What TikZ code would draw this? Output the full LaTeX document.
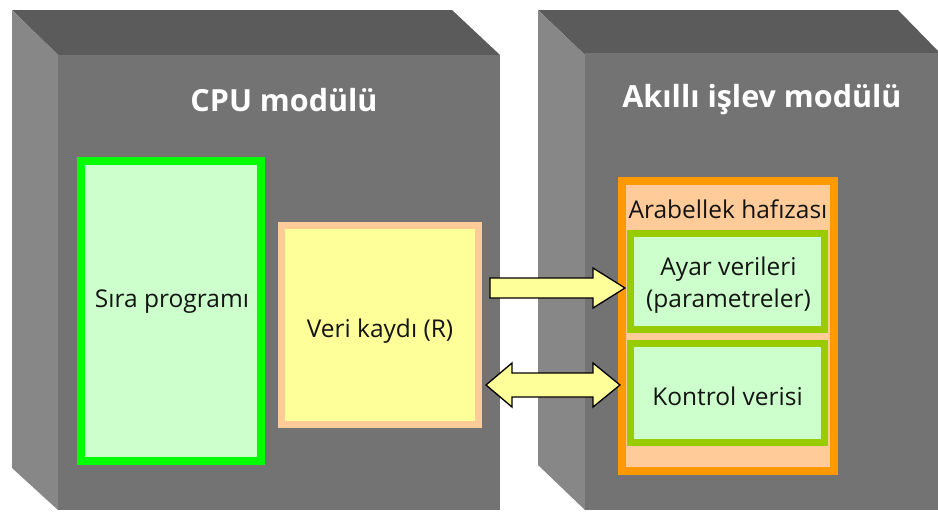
\documentclass[tikz,border=0pt]{standalone}
\usepackage{fontspec}
\setmainfont{Open Sans}
\usetikzlibrary{calc}
\definecolor{frontgray}{HTML}{737373}
\definecolor{topgray}{HTML}{5B5B5B}
\definecolor{sidegray}{HTML}{878787}
\definecolor{lightgreen}{HTML}{CCFFCC}
\definecolor{brightgreen}{HTML}{00FF00}
\definecolor{olivegreen}{HTML}{99CC00}
\definecolor{peach}{HTML}{FFCC99}
\definecolor{paleyellow}{HTML}{FFFF99}
\definecolor{orangeb}{HTML}{FF9900}
\definecolor{txt}{HTML}{141414}
\tikzset{
  box/.style={inner sep=0pt},
  lbl/.style={inner sep=0pt, align=center, text=txt, font=\fontsize{24.5}{32}\selectfont},
  title/.style={text=white, font=\bfseries\fontsize{30.5}{36}\selectfont, inner sep=0pt},
  fatarrow/.style={fill=paleyellow, draw=black, line width=1.3pt, line join=miter},
}
\begin{document}
\begin{tikzpicture}[x=1pt,y=-1pt]
\useasboundingbox (0,0) rectangle (938,512);
% left module
\fill[topgray] (12,10) -- (452,10) -- (500,55) -- (58,55) -- cycle;
\fill[sidegray] (12,10) -- (58,55) -- (58,510) -- (12,468) -- cycle;
\fill[frontgray] (58,55) rectangle (500,510);
% right module
\fill[topgray] (538,10) -- (898,10) -- (940,53) -- (585,55) -- cycle;
\fill[sidegray] (538,10) -- (585,55) -- (585,510) -- (538,465) -- cycle;
\fill[frontgray] (585,53) rectangle (940,510);

\node[title] (cpu) at (284,100) {CPU modülü};
\node[title] (akilli) at (762,100) {Akıllı işlev modülü};

\node[box, fill=lightgreen, draw=brightgreen, line width=8pt,
      minimum width=180pt, minimum height=300pt] (sira) at (171,311) {};
\node[lbl] (siratxt) at (172,302) {Sıra programı};

\node[box, fill=paleyellow, draw=peach, line width=7pt,
      minimum width=197pt, minimum height=199pt] (veri) at (380,325) {};
\node[lbl] (veritxt) at ($(veri.center)+(0,6)$) {Veri kaydı (R)};

\node[box, fill=peach, draw=orangeb, line width=8pt,
      minimum width=212pt, minimum height=290pt] (arab) at (728,326) {};
\node[lbl] (arabtxt) at (728,209) {Arabellek hafızası};

\node[box, fill=lightgreen, draw=olivegreen, line width=7pt,
      minimum width=194pt, minimum height=96pt] (ayar) at (727.5,281.5) {};
\node[lbl] (ayartxt) at ($(ayar.center)+(1,4)$) {Ayar verileri\\(parametreler)};
\node[box, fill=lightgreen, draw=olivegreen, line width=7pt,
      minimum width=194pt, minimum height=99pt] (kontrol) at (727.5,393) {};
\node[lbl] (kontroltxt) at ($(kontrol.center)+(0,3)$) {Kontrol verisi};

% upper arrow
\coordinate (a1s) at ($(veri.east)+(8,-37)$);
\coordinate (a1e) at ($(ayar.west)+(-2,6.5)$);
\draw[fatarrow] ($(a1s)+(0,-10)$) -- ($(a1e)+(-32,-10)$) -- ($(a1e)+(-32,-20)$) -- (a1e)
  -- ($(a1e)+(-32,20)$) -- ($(a1e)+(-32,10)$) -- ($(a1s)+(0,10)$) -- cycle;
% lower double arrow
\coordinate (a2s) at ($(veri.east)+(4,60)$);
\coordinate (a2e) at ($(kontrol.west)+(-7,-8)$);
\draw[fatarrow] (a2s) -- ($(a2s)+(26,-22)$) -- ($(a2s)+(26,-12)$) -- ($(a2e)+(-27,-12)$)
  -- ($(a2e)+(-27,-22)$) -- (a2e) -- ($(a2e)+(-27,22)$) -- ($(a2e)+(-27,12)$)
  -- ($(a2s)+(26,12)$) -- ($(a2s)+(26,22)$) -- cycle;
\end{tikzpicture}
\end{document}
